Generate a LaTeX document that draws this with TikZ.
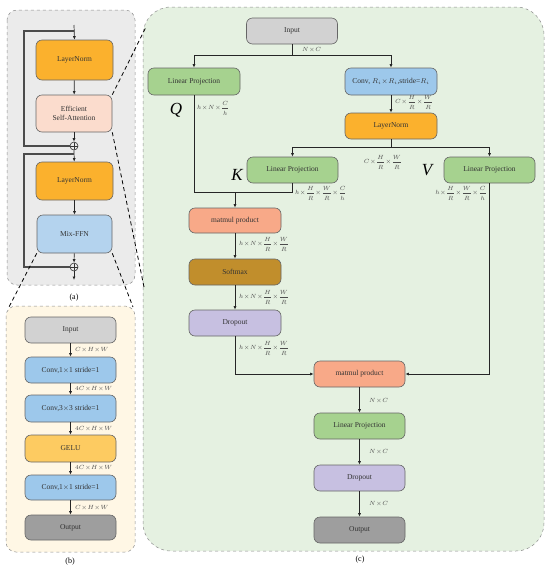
\documentclass[tikz,border=0pt]{standalone}
\usepackage{fontspec}
\setmainfont{Liberation Serif}
\usetikzlibrary{arrows.meta}
\definecolor{bga}{HTML}{EBEBEB}
\definecolor{bgb}{HTML}{FFF7E5}
\definecolor{bgc}{HTML}{E5F1E1}
\definecolor{cgray}{HTML}{D2D2D2}
\definecolor{cgreen}{HTML}{A6D28F}
\definecolor{cblue}{HTML}{9DC8EB}
\definecolor{corange}{HTML}{FBB12D}
\definecolor{cpeach}{HTML}{FBDCCD}
\definecolor{clblue}{HTML}{B4D3EE}
\definecolor{csalmon}{HTML}{F8A988}
\definecolor{cbrown}{HTML}{C18E2C}
\definecolor{clav}{HTML}{C7C0E1}
\definecolor{cdgray}{HTML}{9E9E9E}
\definecolor{cyel}{HTML}{FDCB61}
\definecolor{txt}{HTML}{333333}
\newcommand{\xx}{\mkern1mu{\times}\mkern1mu}
\begin{document}
\begin{tikzpicture}[x=1pt,y=-1pt,
  box/.style={draw=black!60, line width=0.6pt, rounded corners=6pt, align=center, inner sep=0pt,
     font=\fontsize{7.5}{8.5}\selectfont, text=txt},
  w91/.style={minimum width=91pt},
  panel/.style={draw=black!45, dashed, line width=0.5pt},
  link/.style={line width=0.7pt, draw=black!85},
  arr/.style={link, -{Latex[length=3.5pt,width=3pt]}},
  loopln/.style={line width=1.3pt, draw=black!70},
  zoomln/.style={line width=0.8pt, dash pattern=on 4pt off 3pt},
  lab/.style={font=\fontsize{6.5}{7}\selectfont, text=black!70, inner sep=0pt},
  flab/.style={font=\fontsize{6}{7}\selectfont, text=black!70, inner sep=0pt, execute at begin node=$\displaystyle, execute at end node=$},
  big/.style={font=\fontsize{17}{18}\selectfont\itshape, inner sep=0pt},
  captext/.style={font=\fontsize{8}{9}\selectfont, inner sep=0pt},
  plus/.style={circle, draw=black!80, line width=0.6pt, minimum size=8pt, inner sep=0pt,
     path picture={\draw[black!80,line width=0.6pt] (path picture bounding box.north) -- (path picture bounding box.south)
       (path picture bounding box.west) -- (path picture bounding box.east);}}
]
\useasboundingbox (0,0) rectangle (550,571);
% panels
\draw[panel, fill=bga, rounded corners=10pt] (7,10) rectangle (135,285);
\draw[panel, fill=bgb, rounded corners=10pt] (6,306) rectangle (135,552);
\draw[panel, fill=bgc, rounded corners=28pt] (143,7) rectangle (544,551);

% ---------- panel (a)
\node[box, fill=corange, minimum width=77pt, minimum height=40pt] (ln1) at (74.5,60) {LayerNorm};
\node[box, fill=cpeach, minimum width=76pt, minimum height=37pt] (esa) at (74,113.5) {Efficient\\Self-Attention};
\node[plus] (p1) at (74,146) {};
\node[box, fill=corange, minimum width=77pt, minimum height=38pt] (ln2) at (74.5,181) {LayerNorm};
\node[box, fill=clblue, minimum width=75pt, minimum height=38pt] (mix) at (74.5,234) {Mix-FFN};
\node[plus] (p2) at (74,267) {};
\coordinate (ain) at (74,25);
\coordinate (aout) at (74,280);
\coordinate (br1) at (74,31);
\coordinate (br2) at (74,154);
\draw[arr] (ain) -- (ln1.north);
\draw[arr] (ln1) -- (esa);
\draw[arr] (esa) -- (p1);
\draw[arr] (p1) -- (ln2);
\draw[arr] (ln2) -- (mix);
\draw[arr] (mix) -- (p2);
\draw[arr] (p2) -- (aout);
\draw[loopln] (br1) -- (24,31) -- (24,146) -- (p1.west);
\draw[loopln] (br2) -- (24,154) -- (24,267) -- (p2.west);
\node[captext] (capa) at (74,298) {(a)};

% ---------- panel (b)
\node[box, w91, fill=cgray, minimum height=26pt] (bin) at (70.5,330) {Input};
\node[box, w91, fill=cblue, minimum height=26pt] (bc1) at (70.5,370) {Conv,1$\times$1 stride=1};
\node[box, w91, fill=cblue, minimum height=27pt] (bc3) at (70.5,408.5) {Conv,3$\times$3 stride=1};
\node[box, w91, fill=cyel, minimum height=27pt] (gelu) at (70.5,448.5) {GELU};
\node[box, w91, fill=cblue, minimum height=25pt] (bc4) at (70.5,487.5) {Conv,1$\times$1 stride=1};
\node[box, w91, fill=cdgray, minimum height=25pt] (bout) at (70.5,527.5) {Output};
\draw[arr] (bin) -- (bc1);
\draw[arr] (bc1) -- (bc3);
\draw[arr] (bc3) -- (gelu);
\draw[arr] (gelu) -- (bc4);
\draw[arr] (bc4) -- (bout);
\node[lab, anchor=west] (lb1) at (75,350) {$C\xx H\xx W$};
\node[lab, anchor=west] (lb2) at (75,389) {$4C\xx H\xx W$};
\node[lab, anchor=west] (lb3) at (75,428.5) {$4C\xx H\xx W$};
\node[lab, anchor=west] (lb4) at (75,468) {$4C\xx H\xx W$};
\node[lab, anchor=west] (lb5) at (75,507.5) {$C\xx H\xx W$};
\node[captext] (capb) at (70,562) {(b)};

% ---------- panel (c)
\node[box, w91, fill=cgray, minimum height=26pt] (cin) at (292,31) {Input};
\node[box, minimum width=92pt, fill=cgreen, minimum height=27pt] (lpq) at (194,81.5) {Linear Projection};
\node[box, minimum width=92pt, fill=cblue, minimum height=27pt] (conv) at (391,81.5) {Conv, $R_i\xx R_i$,stride=$R_i$};
\node[box, minimum width=92pt, fill=corange, minimum height=26pt] (lnc) at (391,126) {LayerNorm};
\node[box, w91, fill=cgreen, minimum height=26pt] (lpk) at (292.5,170) {Linear Projection};
\node[box, w91, fill=cgreen, minimum height=26pt] (lpv) at (489.5,170) {Linear Projection};
\node[box, minimum width=92pt, fill=csalmon, minimum height=25pt] (mm1) at (235,220.5) {matmul product};
\node[box, minimum width=92pt, fill=cbrown, minimum height=26pt] (soft) at (235,272) {Softmax};
\node[box, minimum width=92pt, fill=clav, minimum height=26pt] (drop1) at (235,323) {Dropout};
\node[box, w91, fill=csalmon, minimum height=26pt] (mm2) at (359.5,374) {matmul product};
\node[box, w91, fill=cgreen, minimum height=26pt] (lpo) at (359.5,426) {Linear Projection};
\node[box, w91, fill=clav, minimum height=26pt] (drop2) at (359.5,478) {Dropout};
\node[box, w91, fill=cdgray, minimum height=26pt] (outc) at (359.5,530) {Output};

\coordinate (s1) at (292,55);
\coordinate (s2) at (391,147);
\coordinate (jq) at (194,192);
\coordinate (jk) at (292.5,192);
\coordinate (jm) at (235,192);
\draw[link] (cin) -- (s1);
\draw[arr] (s1) -| (lpq);
\draw[arr] (s1) -| (conv);
\draw[arr] (conv) -- (lnc);
\draw[link] (lnc) -- (s2);
\draw[arr] (s2) -| (lpk);
\draw[arr] (s2) -| (lpv);
\draw[link] (lpq) -- (jq) -- (jk) -- (lpk);
\draw[arr] (jm) -- (mm1);
\draw[arr] (mm1) -- (soft);
\draw[arr] (soft) -- (drop1);
\draw[arr] (drop1) |- (mm2);
\draw[arr] (lpv) |- (mm2);
\draw[arr] (mm2) -- (lpo);
\draw[arr] (lpo) -- (drop2);
\draw[arr] (drop2) -- (outc);

\node[lab, anchor=west] (l1) at (302,50) {$N\xx C$};
\node[flab, anchor=west] (l2) at (197,108) {h\xx N\xx\frac{C}{h}};
\node[big] (lq) at (176,110) {Q};
\node[flab, anchor=west] (l3) at (395,102) {C\xx\frac{H}{R}\xx\frac{W}{R}};
\node[flab] (l4) at (383,162) {C\xx\frac{H}{R}\xx\frac{W}{R}};
\node[big] (lv) at (427,170) {V};
\node[big] (lk) at (237,175) {K};
\node[flab, anchor=west] (l5) at (295,193) {h\xx\frac{H}{R}\xx\frac{W}{R}\xx\frac{C}{h}};
\node[flab, anchor=east] (l6) at (487,193) {h\xx\frac{H}{R}\xx\frac{W}{R}\xx\frac{C}{h}};
\node[flab, anchor=west] (l7) at (239,244) {h\xx N\xx\frac{H}{R}\xx\frac{W}{R}};
\node[flab, anchor=west] (l8) at (239,297) {h\xx N\xx\frac{H}{R}\xx\frac{W}{R}};
\node[flab, anchor=west] (l9) at (239,348) {h\xx N\xx\frac{H}{R}\xx\frac{W}{R}};
\node[lab, anchor=west] (l10) at (369,401) {$N\xx C$};
\node[lab, anchor=west] (l11) at (369,452) {$N\xx C$};
\node[lab, anchor=west] (l12) at (369,504) {$N\xx C$};
\node[captext] (capc) at (360,560) {(c)};

% zoom lines
\coordinate (zt) at (146,27);
\coordinate (zb) at (144,287);
\coordinate (zbl) at (9,307);
\coordinate (zbr) at (133,307);
\draw[zoomln] (esa.north east) -- (zt);
\draw[zoomln] (esa.south east) -- (zb);
\draw[zoomln] (mix.south west) -- (zbl);
\draw[zoomln] (mix.south east) -- (zbr);
\end{tikzpicture}
\end{document}
